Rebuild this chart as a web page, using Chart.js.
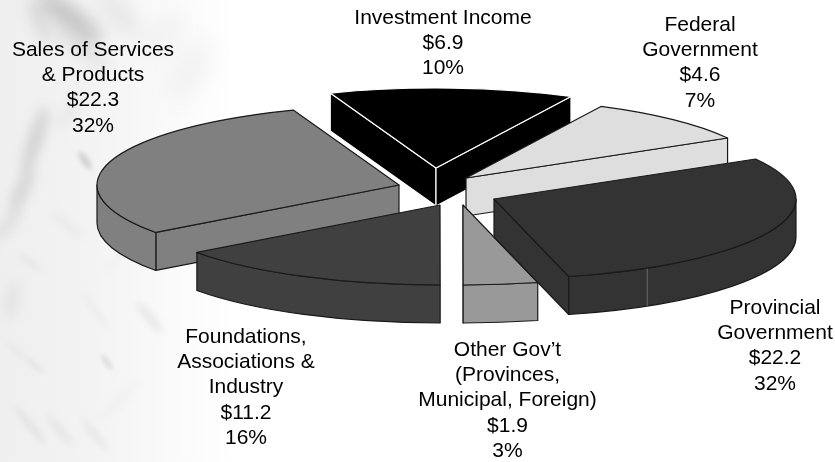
<!DOCTYPE html>
<html><head><meta charset="utf-8">
<script src="https://cdn.jsdelivr.net/npm/chart.js@4"></script>
<style>
html,body{margin:0;padding:0;background:#fff;width:835px;height:462px;overflow:hidden}
#bg{position:absolute;left:0;top:0;width:835px;height:462px;overflow:hidden;
 background:linear-gradient(90deg,#efefef 0,#f3f3f3 90px,#fafafa 170px,#fff 240px);}
#bg i{position:absolute;display:block;background:#8a8a8a;border-radius:50%}
canvas{position:absolute;left:0;top:0}
</style></head><body>
<div id="bg"></div>
<canvas id="c" width="835" height="462"></canvas>
<script>
// ---- data ----
const nameLines = [
  ["Investment Income"],
  ["Federal","Government"],
  ["Provincial","Government"],
  ["Other Gov\u2019t","(Provinces,","Municipal, Foreign)"],
  ["Foundations,","Associations &","Industry"],
  ["Sales of Services","& Products"]
];
const values = [6.9, 4.6, 22.2, 1.9, 11.2, 22.3];
const percents = [10, 7, 32, 3, 16, 32];

// ---- styling and projection ----
const topColors  = ["#000000","#dedede","#333333","#999999","#404040","#808080"];
const edgeColors = ["#ffffff","#1a1a1a","#1a1a1a","#1a1a1a","#1a1a1a","#1a1a1a"];
const paintOrder = [0,1,5,3,2,4];
const tiltCenter = {x:447,y:192}, radiusX = 302, radiusY = 80, depth = 38;
const pullApart = [[-11,-24],[19,-14],[47,7],[16,13],[-7,13],[-48,-7]];
const perspectiveNudgeDeg = [-5.5,5.6,15.1,5.1,9.5,4.8];
const labelCenters = [[443,18],[700,25],[775,308],[507.5,350],[246,337],[93,50]];
const lineGap = 25.3;
const seam = {slice:2, angleDeg:59.5, color:"#6a6a6a"};
// soft marbling of the slide background: centre x, centre y, length, width, turn, strength, blur
const marbling = [
  [70,18,80,24,38,.42,8],[40,22,50,14,65,.22,7],[120,15,60,18,50,.16,9],[85,52,70,12,35,.16,7],
  [190,70,70,26,-60,.10,12],[165,35,60,22,-50,.08,10],
  [35,140,70,14,-72,.30,6],[22,190,50,14,-65,.26,6],[85,160,22,7,55,.34,2.5],[8,225,40,12,-50,.16,6],
  [68,225,40,7,40,.10,4],[30,262,30,6,35,.10,3],[12,300,40,14,-80,.12,6],
  [150,318,40,8,50,.16,3.5],[107,362,18,5,55,.26,2],[95,310,50,5,55,.08,3],
  [35,365,24,5,40,.12,2.5],[30,425,50,6,50,.15,3],[60,430,40,7,52,.12,3],[95,435,40,6,50,.13,3],
  [15,350,30,6,45,.08,3],[120,400,60,8,-45,.05,4],[70,110,50,10,-60,.10,6],[125,250,60,5,-45,.06,4]
];
const bg=document.getElementById("bg");
marbling.forEach(m=>{
  const e=document.createElement("i");
  e.style.cssText=`left:${m[0]-m[2]/2}px;top:${m[1]-m[3]/2}px;width:${m[2]}px;height:${m[3]}px;transform:rotate(${m[4]}deg);opacity:${m[5]};filter:blur(${m[6]}px)`;
  bg.appendChild(e);
});

const d2r = Math.PI/180;

const tiltedPie = {
  id:"tiltedPie",
  afterDatasetsUpdate(chart){
    const arcs = chart.getDatasetMeta(0).data;
    const base = arcs.map(a=>a.startAngle);
    arcs.forEach((a,i)=>{
      const j=(i+1)%arcs.length;
      const start = base[i]+perspectiveNudgeDeg[i]*d2r;
      let end = base[j]+perspectiveNudgeDeg[j]*d2r;
      if(end<start) end+=2*Math.PI;
      a.startAngle=start; a.endAngle=end; a.circumference=end-start;
    });
  },
  beforeDatasetDraw(chart){
    const ctx=chart.ctx, arcs=chart.getDatasetMeta(0).data;
    paintOrder.forEach(i=>{
      const a=arcs[i], s=a.startAngle, e=a.endAngle;
      const px=tiltCenter.x+pullApart[i][0], py=tiltCenter.y+pullApart[i][1];
      const ex=t=>px+radiusX*Math.cos(t), ey=t=>py+radiusY*Math.sin(t);
      ctx.save();
      ctx.fillStyle=topColors[i]; ctx.strokeStyle=edgeColors[i]; ctx.lineWidth=1.2; ctx.lineJoin="round";
      const wall=t=>{
        ctx.beginPath(); ctx.moveTo(px,py); ctx.lineTo(ex(t),ey(t));
        ctx.lineTo(ex(t),ey(t)+depth); ctx.lineTo(px,py+depth); ctx.closePath();
        ctx.fill(); ctx.stroke();
      };
      if(Math.cos(s)<-1e-6) wall(s);
      if(Math.cos(e)>1e-6) wall(e);
      for(let k=-1;k<=2;k++){
        const a1=Math.max(s,2*Math.PI*k), a2=Math.min(e,2*Math.PI*k+Math.PI);
        if(a2>a1){
          ctx.beginPath();
          ctx.ellipse(px,py,radiusX,radiusY,0,a1,a2);
          ctx.ellipse(px,py+depth,radiusX,radiusY,0,a2,a1,true);
          ctx.closePath(); ctx.fill(); ctx.stroke();
        }
      }
      if(seam.slice===i){
        const t=seam.angleDeg*d2r;
        ctx.save(); ctx.strokeStyle=seam.color; ctx.lineWidth=1;
        ctx.beginPath(); ctx.moveTo(ex(t),ey(t)); ctx.lineTo(ex(t),ey(t)+depth); ctx.stroke(); ctx.restore();
      }
      // top face: the library's own arc element, squashed into the tilted plane
      ctx.save();
      ctx.translate(px,py);
      ctx.scale(radiusX/a.outerRadius,radiusY/a.outerRadius);
      ctx.translate(-a.x,-a.y);
      a.draw(ctx);
      ctx.restore();
      ctx.beginPath(); ctx.moveTo(px,py); ctx.lineTo(ex(s),ey(s));
      ctx.ellipse(px,py,radiusX,radiusY,0,s,e); ctx.closePath(); ctx.stroke();
      ctx.restore();
    });
    return false;
  },
  afterDraw(chart){
    const ctx=chart.ctx;
    ctx.save();
    ctx.font='21px "Liberation Sans", Arial, sans-serif';
    ctx.fillStyle="#000"; ctx.textAlign="center"; ctx.textBaseline="middle";
    values.forEach((v,i)=>{
      const lines=[...nameLines[i],"$"+v.toFixed(1),percents[i]+"%"];
      lines.forEach((t,n)=>ctx.fillText(t,labelCenters[i][0],labelCenters[i][1]+n*lineGap));
    });
    ctx.restore();
  }
};

new Chart(document.getElementById("c"),{
  type:"pie",
  data:{labels:nameLines.map(l=>l.join(" ")),datasets:[{data:values,backgroundColor:topColors,borderWidth:0}]},
  options:{responsive:false,animation:false,events:[],rotation:-15,radius:200,
    plugins:{legend:{display:false},tooltip:{enabled:false},title:{display:false}}},
  plugins:[tiltedPie]
});
</script>
</body></html>
